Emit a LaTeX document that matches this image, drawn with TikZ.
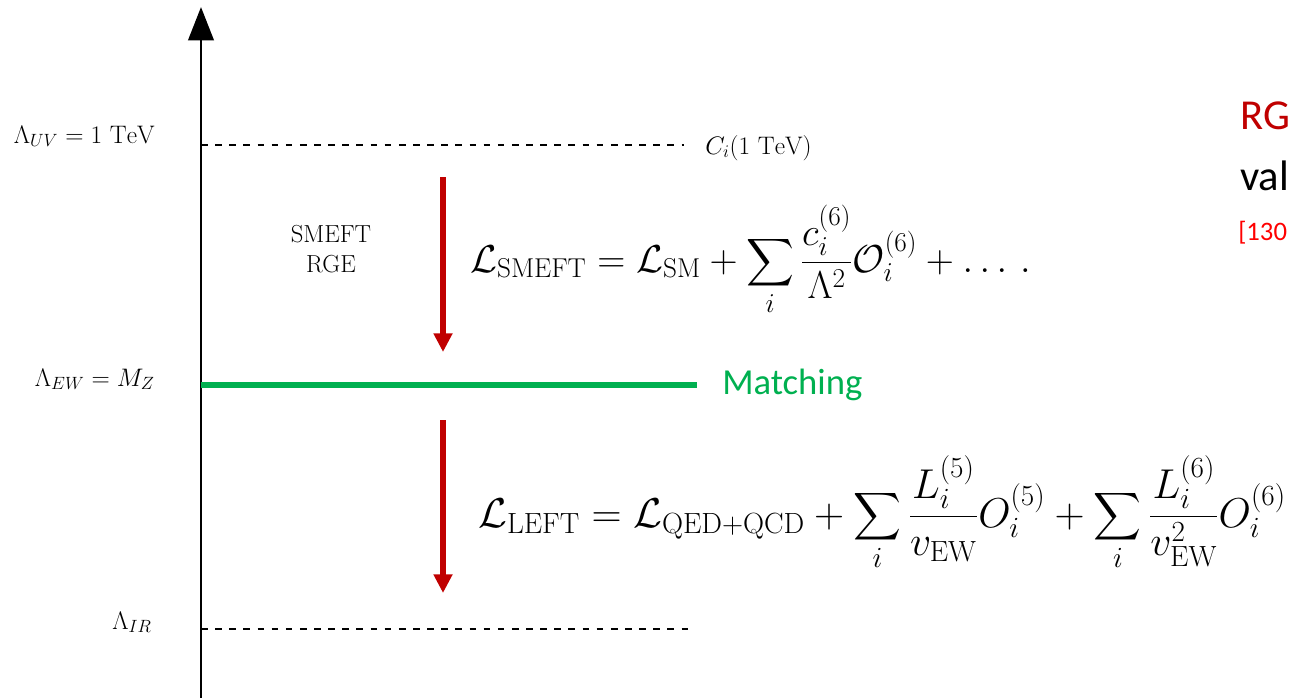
\RequirePackage{fix-cm}
\documentclass[tikz,border=0pt]{standalone}
\usepackage{amsmath}
\usepackage{fontspec}
\newfontfamily\carlito{Carlito}
\usetikzlibrary{arrows.meta}
\definecolor{darkred}{RGB}{192,0,0}
\definecolor{brightred}{RGB}{255,0,0}
\definecolor{mgreen}{RGB}{0,176,80}
\tikzset{
  axisline/.style={line width=2.2pt,-{Triangle[length=25pt,width=19pt]}},
  dashline/.style={line width=1.4pt,dash pattern=on 5pt off 5.6pt},
  greenline/.style={line width=5pt,draw=mgreen},
  redarrow/.style={line width=4pt,draw=darkred,-{Triangle[length=14pt,width=13.5pt]}},
  lbl/.style={inner sep=0pt,font=\fontsize{19}{23}\selectfont},
  eqn/.style={inner sep=0pt,font=\fontsize{29.2}{35}\selectfont},
  calib/.style={inner sep=0pt,font=\carlito\fontsize{27.5}{32}\selectfont}
}
\begin{document}
\begin{tikzpicture}[x=0.75pt,y=-0.75pt]
\useasboundingbox (0,0) rectangle (1291,697);
\clip (0,0) rectangle (1291,697);
% axis
\coordinate (axb) at (201,700);
\coordinate (axt) at (201,7);
\draw[axisline] (axb) -- (axt);
% scale lines
\coordinate (uvL) at (201,145);
\coordinate (uvR) at (684,145);
\draw[dashline] (uvL) -- (uvR);
\coordinate (irL) at (201,629);
\coordinate (irR) at (689,629);
\draw[dashline] (irL) -- (irR);
\coordinate (ewL) at (201,385);
\coordinate (ewR) at (697,385);
\draw[greenline] (ewL) -- (ewR);
% labels
\node[lbl,anchor=base east] (luv) at (155,143) {$\Lambda_{UV} = 1~\mathrm{TeV}$};
\node[lbl,anchor=base east] (lew) at (155,386) {$\Lambda_{EW} = M_Z$};
\node[lbl,anchor=base east] (lir) at (152,629) {$\Lambda_{IR}$};
\node[lbl,anchor=base west] (cuv) at (705,154) {$C_i(1~\mathrm{TeV})$};
\node[calib,anchor=west,text=mgreen] (match) at (722,385) {Matching};
\node[lbl,align=center,font=\fontsize{18.5}{22.5}\selectfont] (rge) at (331,249) {SMEFT\\RGE};
% red arrows
\coordinate (a1s) at (443,177);
\coordinate (a1e) at (443,352);
\draw[redarrow] (a1s) -- (a1e);
\coordinate (a2s) at (443,420);
\coordinate (a2e) at (443,593);
\draw[redarrow] (a2s) -- (a2e);
% equations
\node[eqn,anchor=base west] (smeft) at (470,272)
  {$\displaystyle \mathcal{L}_{\mathrm{SMEFT}} = \mathcal{L}_{\mathrm{SM}} + \sum_i \frac{c_i^{(6)}}{\Lambda^2}\mathcal{O}_i^{(6)} + \ldots\,.$};
\node[eqn,anchor=base west,font=\fontsize{31.3}{37}\selectfont] (left) at (478,527)
  {$\displaystyle \mathcal{L}_{\mathrm{LEFT}} = \mathcal{L}_{\mathrm{QED+QCD}} + \sum_i \frac{L_i^{(5)}}{v_{\mathrm{EW}}}O_i^{(5)} + \sum_i \frac{L_i^{(6)}}{v_{\mathrm{EW}}^2}O_i^{(6)}$};
% cut-off right texts
\node[calib,anchor=base west,text=darkred,font=\carlito\fontsize{32}{38}\selectfont] (rg) at (1240,129) {RG};
\node[calib,anchor=base west,text=black,font=\carlito\fontsize{32}{38}\selectfont] (val) at (1240,190) {val};
\node[calib,anchor=base west,text=brightred,font=\carlito\fontsize{20}{24}\selectfont] (ref) at (1238,240) {[130};
\end{tikzpicture}
\end{document}
